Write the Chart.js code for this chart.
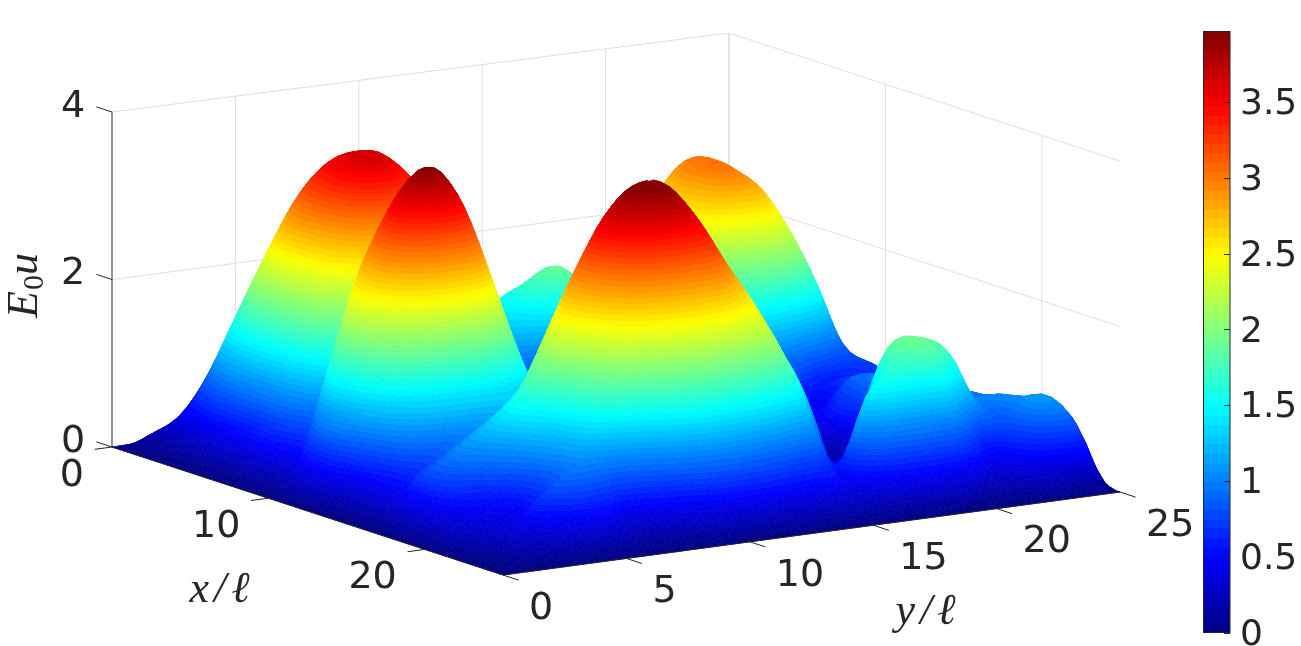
<!DOCTYPE html>
<html>
<head>
<meta charset="utf-8">
<style>
  html, body { margin: 0; padding: 0; background: #fff; overflow: hidden; }
  #surface { position: absolute; left: 0; top: 0; }
  #colorbar { position: absolute; left: 1190px; top: 0; }
</style>
<script src="https://cdn.jsdelivr.net/npm/chart.js@4/dist/chart.umd.min.js"></script>
</head>
<body>
<canvas id="surface" width="1301" height="646"></canvas>
<canvas id="colorbar" width="111" height="646"></canvas>
<script>
const xTicks = [0, 10, 20];
const yTicks = [0, 5, 10, 15, 20, 25];
const zTicks = [0, 2, 4];
const colorTicks = [0, 0.5, 1, 1.5, 2, 2.5, 3, 3.5];
const colorMax = 3.965;

const xNodes = [0,1,2,3,4,5,6,7,8,9,10,11,12,13,14,15,16,17,18,19,20,21,22,23,24,25];
const yNodes = [0,1,2,3,4,5,6,7,8,9,10,11,12,13,14,15,16,17,18,19,20,21,22,23,24,25];

// E0u, one row per x node, columns follow yNodes
const heightRows = [
  [0,0,0,0,0,0,0,0,0,0,0,0,0,0,0,0,0,0,0,0,0,0,0,0,0,0],
  [0,.18,.30,.50,.65,.80,.85,.85,.80,.65,.45,.30,.25,.25,.28,.30,.30,.30,.35,.40,.42,.40,.35,.25,.12,0],
  [0,.20,.60,1.05,1.45,1.72,1.85,1.85,1.68,1.35,1.00,.75,.65,.70,.85,.80,.70,.80,1.05,1.20,1.25,1.20,1.00,.70,.30,0],
  [0,.25,.85,1.55,2.10,2.50,2.70,2.70,2.45,2.00,1.50,1.15,1.00,1.20,1.40,1.30,1.10,1.20,1.70,1.95,2.05,1.95,1.60,1.10,.50,0],
  [0,.33,1.05,1.85,2.55,3.05,3.30,3.30,3.00,2.45,1.85,1.40,1.25,1.45,1.62,1.72,1.30,1.40,1.90,2.30,2.60,2.50,2.05,1.40,.65,0],
  [0,.38,1.15,2.00,2.80,3.30,3.55,3.50,3.25,2.65,2.00,1.55,1.35,1.50,1.75,1.88,1.55,1.50,2.00,2.60,2.95,2.90,2.55,1.85,.90,0],
  [0,.40,1.20,2.05,2.85,3.38,3.62,3.62,3.30,2.65,2.00,1.50,1.25,1.30,1.50,1.72,1.45,1.65,2.30,2.80,3.00,2.95,2.60,2.00,.95,0],
  [0,.41,1.18,2.00,2.78,3.38,3.62,3.50,3.20,2.50,1.85,1.30,1.00,.95,1.15,1.40,1.35,1.70,2.25,2.75,3.03,2.90,2.55,2.00,.98,0],
  [0,.50,1.15,1.95,2.55,3.10,3.30,3.15,2.70,2.10,1.50,1.05,.80,.72,.85,1.05,1.20,1.60,2.15,2.60,2.85,2.80,2.42,1.75,.90,0],
  [0,.45,1.05,1.65,2.15,2.55,2.70,2.60,2.20,1.65,1.15,.75,.55,.48,.55,.70,1.00,1.35,1.75,2.10,2.30,2.30,2.05,1.50,.65,0],
  [0,.40,.90,1.40,2.00,2.45,2.55,2.30,1.85,1.30,.85,.55,.38,.30,.32,.42,.65,.95,1.30,1.55,1.60,1.45,1.20,.85,.70,0],
  [0,.70,1.75,2.60,3.05,3.20,3.10,2.60,2.00,1.40,.90,.55,.35,.25,.22,.28,.45,.60,.85,1.00,1.05,.85,.55,.60,.70,0],
  [0,1.00,2.20,3.00,3.62,3.78,3.40,2.62,1.75,1.02,.55,.30,.22,.17,.15,.18,.28,.40,.50,.60,.62,.50,.70,.60,.55,0],
  [0,1.00,2.15,3.05,3.72,3.87,3.45,2.62,1.72,1.00,.52,.28,.17,.13,.13,.15,.18,.25,.30,.38,.45,.50,.72,.70,.42,0],
  [0,.70,1.75,2.50,2.98,3.10,2.78,2.12,1.40,.82,.48,.30,.20,.15,.13,.13,.14,.16,.20,.30,.50,.85,.80,.60,.30,0],
  [0,.50,1.15,1.55,1.70,1.75,1.60,1.30,1.05,.90,.80,.62,.45,.32,.20,.14,.12,.12,.15,.28,.65,.92,.92,.65,.30,0],
  [0,.45,.80,.95,1.05,1.10,1.25,1.50,1.65,1.70,1.60,1.30,1.02,.74,.46,.26,.16,.12,.12,.20,.60,1.00,.95,.65,.30,0],
  [0,.50,.70,.90,1.05,1.25,1.50,1.90,2.25,2.42,2.42,2.25,1.90,1.42,.92,.50,.25,.15,.13,.20,.55,.95,.95,.70,.30,0],
  [0,.70,.90,1.10,1.30,1.55,2.10,2.70,3.15,3.35,3.33,3.10,2.65,2.25,1.70,1.05,.55,.20,.15,.30,.60,.95,.90,.85,.35,0],
  [0,.70,.95,1.15,1.45,1.85,2.50,3.10,3.65,3.93,3.93,3.62,3.10,2.55,2.10,1.60,.90,.30,.30,.55,.80,.90,.90,.90,.45,0],
  [0,.55,.70,.90,1.25,1.70,2.40,3.05,3.60,3.83,3.85,3.55,3.05,2.55,2.00,1.50,.60,.25,.80,1.10,1.20,1.00,.95,.92,.55,0],
  [0,.35,.45,.60,.95,1.40,2.05,2.65,3.10,3.33,3.35,3.20,2.75,2.35,1.75,1.15,.38,1.00,1.70,1.80,1.60,1.05,1.00,1.00,.65,0],
  [0,.25,.35,.55,.85,1.20,1.65,2.10,2.40,2.58,2.60,2.45,2.20,2.00,1.45,.60,.42,1.40,1.85,1.87,1.68,1.10,.85,1.05,.75,0],
  [0,.15,.40,.72,.90,.90,.80,1.00,1.50,1.70,1.70,1.55,1.40,1.12,.90,.55,1.40,1.60,1.60,1.65,1.05,.45,.75,1.10,.90,0],
  [0,.08,.20,.38,.48,.42,.22,.25,.35,.70,.75,.72,.60,.50,.50,.35,.60,.72,.72,.62,.30,.20,.50,.75,.70,0],
  [0,0,0,0,0,0,0,0,0,0,0,0,0,0,0,0,0,0,0,0,0,0,0,0,0,0]
];

const ink = '#262626';
const gridColor = '#dedede';
const xSpan = 25, ySpan = 25;
const meshSteps = 4; // facets drawn per data cell, like shading interp

// view of the box: world units -> the picture's plain axes
function project(x, y, z) {
  return {
    x: 112 + 391 * x / xSpan + 617 * y / ySpan,
    y: 447 + 128 * x / xSpan - 83 * y / ySpan - 83.75 * (1 - 0.012 * y / ySpan) * z
  };
}

function jet(i) {
  const t = (i + 0.5) / 64;
  const ramp = v => Math.round(255 * Math.max(0, Math.min(1, 1.5 - Math.abs(4 * t - v))));
  return `rgb(${ramp(3)},${ramp(2)},${ramp(1)})`;
}
const jetColors = Array.from({ length: 64 }, (_, i) => jet(i));

function segment(a, b, color, width, order) {
  return {
    data: [project(a[0], a[1], a[2]), project(b[0], b[1], b[2])],
    showLine: true, pointRadius: 0, borderColor: color, borderWidth: width, order: order
  };
}

var datasets = [];
zTicks.slice(1).forEach(z => {
  datasets.push(segment([0, 0, z], [0, 25, z], gridColor, 1, 3));
  datasets.push(segment([0, 25, z], [25, 25, z], gridColor, 1, 3));
});
yTicks.slice(1).forEach(y => {
  datasets.push(segment([0, y, 0], [0, y, 4], y == 25 ? '#c4c4c4' : gridColor, 1, 3));
});
xTicks.slice(1).forEach(x => {
  datasets.push(segment([x, 25, 0], [x, 25, 4], gridColor, 1, 3));
});

// axis lines and ticks go over the surface
datasets.push(segment([0, 0, 0], [0, 0, 4], ink, 1, 1));
datasets.push(segment([0, 0, 0], [25, 0, 0], ink, 1, 1));
datasets.push(segment([25, 0, 0], [25, 25, 0], ink, 1, 1));
xTicks.forEach(x => datasets.push(segment([x, 0, 0], [x, -0.7, 0], ink, 1, 1)));
datasets.push(segment([25, 0, 0], [26, 0, 0], ink, 1, 1));
yTicks.slice(1).forEach(y => datasets.push(segment([25, y, 0], [26, y, 0], ink, 1, 1)));
zTicks.forEach(z => datasets.push(segment([0, 0, z], [-1, 0, z], ink, 1, 1)));

var surfaceNodes = [];
heightRows.forEach((row, i) => {
  row.forEach((z, j) => {
    var p = project(xNodes[i], yNodes[j], z);
    surfaceNodes.push({ x: p.x, y: p.y, z: z });
  });
});
const surfaceIndex = datasets.length;
datasets.push({ data: surfaceNodes, pointRadius: 0, showLine: false, order: 2 });

function clipBand(poly, level, keepAbove) {
  var out = [];
  poly.forEach((p, k) => {
    var q = poly[(k + 1) % poly.length];
    var pIn = keepAbove ? p.z >= level : p.z <= level;
    var qIn = keepAbove ? q.z >= level : q.z <= level;
    if (pIn) out.push(p);
    if (pIn != qIn) {
      var t = (level - p.z) / (q.z - p.z);
      out.push({ x: p.x + t * (q.x - p.x), y: p.y + t * (q.y - p.y), z: level });
    }
  });
  return out;
}

function fillTriangle(ctx, tri) {
  var step = colorMax / 64;
  var zs = tri.map(p => p.z);
  var first = Math.max(0, Math.floor(Math.min(...zs) / step));
  var last = Math.min(63, Math.floor(Math.max(...zs) / step));
  for (var band = first; band <= last; band++) {
    var poly = band > 0 ? clipBand(tri, band * step, true) : tri;
    if (band < 63) poly = clipBand(poly, (band + 1) * step, false);
    if (poly.length < 3) continue;
    ctx.beginPath();
    poly.forEach((p, k) => k ? ctx.lineTo(p.x, p.y) : ctx.moveTo(p.x, p.y));
    ctx.closePath();
    ctx.fillStyle = ctx.strokeStyle = jetColors[band];
    ctx.fill();
    ctx.stroke();
  }
}

// same curve as a line dataset's tension, used along both grid directions
function spline(a, b, c, d, t) {
  return b + 0.5 * t * (c - a + t * (2 * a - 5 * b + 4 * c - d + t * (3 * (b - c) + d - a)));
}

function heightAt(u, v) {
  var n = yNodes.length - 1;
  var i = Math.min(Math.floor(u), n - 1), j = Math.min(Math.floor(v), n - 1);
  var cols = [-1, 0, 1, 2].map(di => {
    var row = heightRows[Math.max(0, Math.min(n, i + di))];
    var at = k => row[Math.max(0, Math.min(n, k))];
    return spline(at(j - 1), at(j), at(j + 1), at(j + 2), v - j);
  });
  return Math.max(0, spline(cols[0], cols[1], cols[2], cols[3], u - i));
}

function drawSurface(chart) {
  var ctx = chart.ctx, sx = chart.scales.x, sy = chart.scales.y;
  var n = (yNodes.length - 1) * meshSteps;
  var mesh = [];
  for (var a = 0; a <= n; a++) {
    var line = [];
    for (var b = 0; b <= n; b++) {
      var u = a / meshSteps, v = b / meshSteps;
      var z = heightAt(u, v);
      var p = project(u, v, z);
      line.push({ x: sx.getPixelForValue(p.x), y: sy.getPixelForValue(p.y), z: z });
    }
    mesh.push(line);
  }
  ctx.save();
  ctx.lineWidth = 0.7;
  ctx.lineJoin = 'round';
  // far corner of the floor is x=0, y=25, so paint from there to the viewer
  for (var i = 0; i < n; i++) {
    for (var j = n - 1; j >= 0; j--) {
      fillTriangle(ctx, [mesh[i][j], mesh[i][j + 1], mesh[i + 1][j + 1]]);
      fillTriangle(ctx, [mesh[i][j], mesh[i + 1][j + 1], mesh[i + 1][j]]);
    }
  }
  ctx.restore();
}

const numberFont = '38px "DejaVu Sans"';
const mathFont = 'italic 44px "Liberation Serif"';

function label(ctx, text, x, y, font, align) {
  ctx.font = font;
  ctx.fillStyle = ink;
  ctx.textAlign = align || 'center';
  ctx.textBaseline = 'middle';
  ctx.fillText(text, x, y);
}

const surfacePlugin = {
  id: 'surface3d',
  afterDatasetDraw(chart, args) {
    if (args.index == surfaceIndex) drawSurface(chart);
  },
  afterDraw(chart) {
    var ctx = chart.ctx, sx = chart.scales.x, sy = chart.scales.y;
    var at = (x, y, z, dx, dy) => {
      var p = project(x, y, z);
      return [sx.getPixelForValue(p.x) + dx, sy.getPixelForValue(p.y) + dy];
    };
    ctx.save();
    xTicks.forEach(x => {
      var p = at(x, 0, 0, -28, 29);
      label(ctx, String(x), p[0], p[1], numberFont, 'right');
    });
    yTicks.forEach(y => {
      var p = at(25, y, 0, 26, 34);
      label(ctx, String(y), p[0], p[1], numberFont, 'left');
    });
    zTicks.forEach(z => {
      var p = at(0, 0, z, -39, -5);
      label(ctx, String(z), p[0], p[1], numberFont);
    });
    ctx.letterSpacing = '5px';
    label(ctx, 'x/ℓ', 222, 590, mathFont);
    label(ctx, 'y/ℓ', 928, 612, mathFont);
    ctx.letterSpacing = '0px';
    // rotated E0u
    ctx.translate(25, 278);
    ctx.rotate(-Math.PI / 2);
    ctx.fillStyle = ink;
    ctx.textBaseline = 'alphabetic';
    ctx.textAlign = 'left';
    ctx.font = mathFont;
    ctx.fillText('E', -40, 12);
    ctx.font = '30px "Liberation Serif"';
    ctx.fillText('0', -12, 18);
    ctx.font = mathFont;
    ctx.fillText('u', 3, 12);
    ctx.restore();
  }
};

new Chart(document.getElementById('surface'), {
  type: 'scatter',
  data: { datasets: datasets },
  options: {
    responsive: false,
    animation: false,
    layout: { padding: 0 },
    plugins: { legend: { display: false }, tooltip: { enabled: false } },
    scales: {
      x: { display: false, min: 0, max: 1301 },
      y: { display: false, min: 0, max: 646, reverse: true }
    }
  },
  plugins: [surfacePlugin]
});

// colour bar: one bar per colormap step, lower steps painted over the taller ones
var barSets = jetColors.map((c, i) => ({
  data: [[0, (i + 1) * colorMax / 64]],
  backgroundColor: c,
  borderWidth: 0,
  grouped: false,
  barPercentage: 1,
  categoryPercentage: 1
}));

const barFrame = {
  id: 'barFrame',
  afterDatasetsDraw(chart) {
    var ctx = chart.ctx, a = chart.chartArea, s = chart.scales.y;
    ctx.save();
    ctx.strokeStyle = ink;
    ctx.lineWidth = 1;
    ctx.strokeRect(a.left, a.top, a.right - a.left, a.bottom - a.top);
    colorTicks.forEach(v => {
      var y = Math.round(s.getPixelForValue(v)) + 0.5;
      ctx.beginPath();
      ctx.moveTo(a.right - 6, y);
      ctx.lineTo(a.right, y);
      ctx.stroke();
    });
    ctx.restore();
  }
};

new Chart(document.getElementById('colorbar'), {
  type: 'bar',
  data: { labels: ['E0u'], datasets: barSets },
  options: {
    responsive: false,
    animation: false,
    layout: { padding: { left: 13.5, top: 31.5, bottom: 13.5, right: 0 } },
    plugins: { legend: { display: false }, tooltip: { enabled: false } },
    scales: {
      x: { display: false },
      y: {
        position: 'right',
        min: 0,
        max: colorMax,
        grid: { display: false, drawTicks: false },
        border: { display: false },
        afterBuildTicks: s => { s.ticks = colorTicks.map(v => ({ value: v })); },
        afterFit: s => { s.width = 71; s.paddingTop = 0; s.paddingBottom = 0; },
        ticks: {
          padding: 10,
          labelOffset: 3,
          color: ink,
          font: { family: 'DejaVu Sans', size: 36 },
          callback: v => String(v)
        }
      }
    }
  },
  plugins: [barFrame]
});
</script>
</body>
</html>
